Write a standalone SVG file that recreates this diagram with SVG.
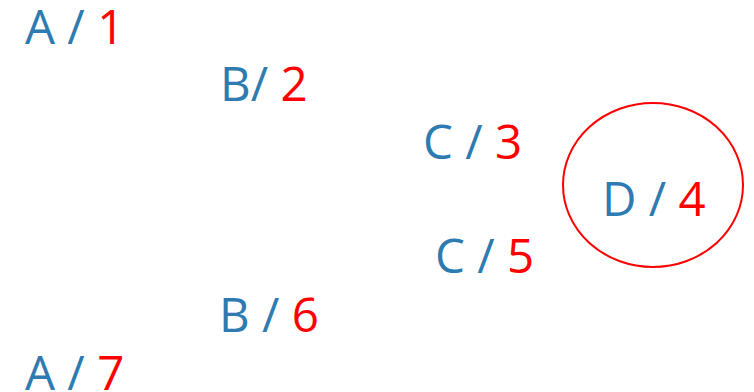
<svg xmlns="http://www.w3.org/2000/svg" width="754" height="392" viewBox="0 0 754 392">
<style>
text{font-family:"Open Sans","Noto Sans","Liberation Sans",sans-serif;font-size:47.5px;fill:#2E7BB1}
.n{fill:#FF0000}
</style>
<rect width="754" height="392" fill="#fff"/>
<g id="a1"><text x="25" y="44">A / <tspan class="n">1</tspan></text></g>
<g id="b2"><text x="220" y="101">B/ <tspan class="n">2</tspan></text></g>
<g id="c3"><text x="423" y="159">C / <tspan class="n">3</tspan></text></g>
<g id="d4"><ellipse cx="653" cy="185" rx="90" ry="82" fill="none" stroke="#FF0000" stroke-width="2"/><text x="602" y="216">D / <tspan class="n">4</tspan></text></g>
<g id="c5"><text x="435" y="273">C / <tspan class="n">5</tspan></text></g>
<g id="b6"><text x="219" y="332">B / <tspan class="n">6</tspan></text></g>
<g id="a7"><text x="25" y="390">A / <tspan class="n">7</tspan></text></g>
<g id="connectors"/>
</svg>
